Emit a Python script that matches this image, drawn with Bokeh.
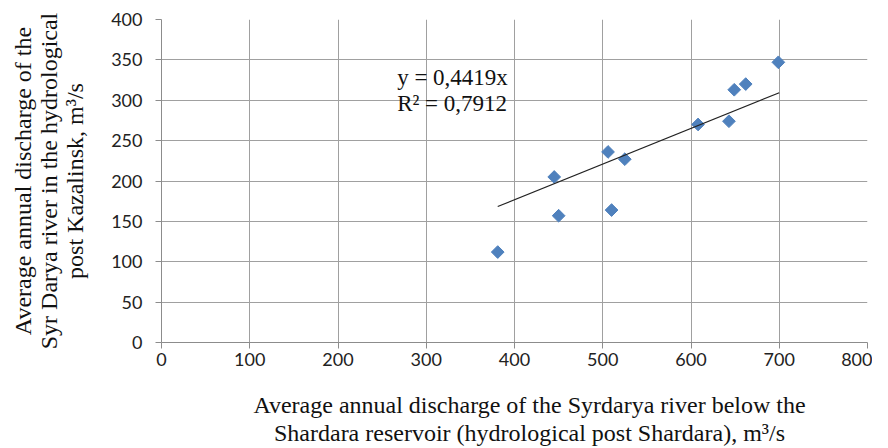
import math
from bokeh.plotting import figure
from bokeh.models import Label, FixedTicker, Range1d, Title
from bokeh.embed import file_html
from bokeh.resources import INLINE

# data
shardara = [381, 445, 450, 506, 510, 525, 608, 643, 649, 662, 699]
kazalinsk = [112, 205, 157, 236, 164, 227, 270, 274, 313, 320, 347]
slope = 0.4419
r2 = 0.7912
trend_x = [381, 700]
trend_y = [slope * v for v in trend_x]

x_ticks = [0, 100, 200, 300, 400, 500, 600, 700, 800]
y_ticks = [0, 50, 100, 150, 200, 250, 300, 350, 400]

x_title = ["Average annual discharge of the Syrdarya river below the",
           "Shardara reservoir (hydrological post Shardara), m³/s"]
y_title = ["Average annual discharge of the",
           "Syr Darya river in the hydrological",
           "post Kazalinsk, m³/s"]

SERIF = "Liberation Serif"
TICKF = "Lato"
PAD = "\u00a0" * 5

p = figure(width=872, height=432, output_backend="svg", toolbar_location=None,
           x_range=Range1d(0, 800), y_range=Range1d(0, 400))
p.frame_width = 706
p.frame_height = 323
p.min_border_left = 161
p.min_border_right = 5
p.min_border_top = 19
p.min_border_bottom = 0
p.outline_line_color = None

p.scatter(shardara, kazalinsk, marker="square", angle=math.pi / 4, size=9,
          color="#4F81BD", line_color="#4F81BD")
p.line(trend_x, trend_y, line_color="#222222", line_width=1.2)

p.add_layout(Label(x=267, y=344, text=f"y = {str(slope).replace('.', ',')}x\nR² = {str(r2).replace('.', ',')}",
                   text_font=SERIF, text_font_size="23px", text_color="#111111",
                   text_baseline="top", text_line_height=1.05))

# y title: spacer then lines, innermost first
p.add_layout(Title(text=" ", text_font_size="18px", standoff=0), "left")
for t in reversed(y_title):
    p.add_layout(Title(text=t, text_font=SERIF, text_font_size="24px",
                       text_font_style="normal", text_color="#111111",
                       align="center", offset=-6, standoff=-2), "left")

# x title as a two-line axis label
p.xaxis.axis_label = "\n".join(PAD + t for t in x_title)
p.xaxis.axis_label_text_font = SERIF
p.xaxis.axis_label_text_font_size = "24px"
p.xaxis.axis_label_text_font_style = "normal"
p.xaxis.axis_label_text_color = "#111111"
p.xaxis.axis_label_text_line_height = 1.08
p.xaxis.axis_label_standoff = 23

for ax in (p.xaxis, p.yaxis):
    ax.axis_line_color = "#8c8c8c"
    ax.major_tick_line_color = "#8c8c8c"
    ax.major_tick_in = 0
    ax.major_tick_out = 6
    ax.minor_tick_line_color = None
    ax.major_label_text_font = TICKF
    ax.major_label_text_font_size = "18px"
    ax.major_label_text_color = "#222222"

p.xaxis.ticker = FixedTicker(ticks=x_ticks)
p.yaxis.ticker = FixedTicker(ticks=y_ticks)
p.xaxis.major_label_standoff = 4
p.yaxis.major_label_standoff = 13

p.xgrid.grid_line_color = "#a0a0a0"
p.ygrid.grid_line_color = "#a0a0a0"

open("out.html", "w").write(file_html(p, INLINE))
